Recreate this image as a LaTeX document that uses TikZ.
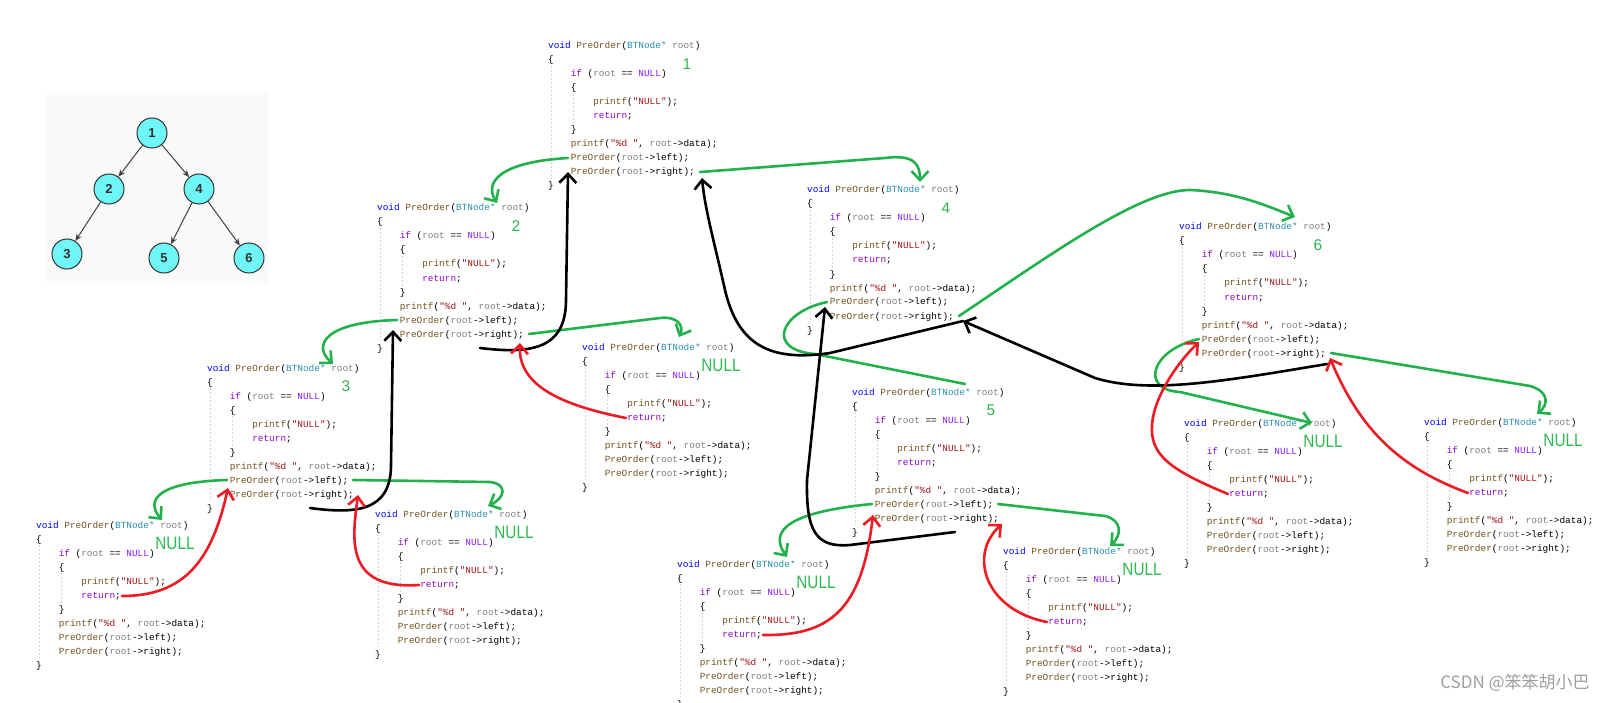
\documentclass[tikz,border=0pt]{standalone}
\usepackage{fontspec}
\setmainfont{Liberation Sans}
\setmonofont{Liberation Mono}
\newfontfamily\cjk{Noto Sans CJK SC}
\newfontfamily\handfont[FakeStretch=0.85]{Liberation Sans}
\usetikzlibrary{arrows.meta,calc}

\definecolor{kwblue}{HTML}{0000FF}
\definecolor{fnbrown}{HTML}{74531F}
\definecolor{typeteal}{HTML}{2B91AF}
\definecolor{parmgrey}{HTML}{808080}
\definecolor{ctlpurple}{HTML}{8F08C4}
\definecolor{macviolet}{HTML}{8A1BFF}
\definecolor{strred}{HTML}{A31515}
\definecolor{callgreen}{HTML}{22B14C}
\definecolor{taggreen}{HTML}{2DB84D}
\definecolor{retred}{HTML}{ED1C24}
\definecolor{treecyan}{HTML}{6FF6F6}

\newcommand\kwd[1]{\textcolor{kwblue}{#1}}
\newcommand\fnc[1]{\textcolor{fnbrown}{#1}}
\newcommand\typ[1]{\textcolor{typeteal}{#1}}
\newcommand\prm[1]{\textcolor{parmgrey}{#1}}
\newcommand\ctl[1]{\textcolor{ctlpurple}{#1}}
\newcommand\mcr[1]{\textcolor{macviolet}{#1}}
\newcommand\strg[1]{\textcolor{strred}{#1}}

% one PreOrder body: line / indent / text
\newcommand\codelines{%
  1/0/{\kwd{void} \fnc{PreOrder}(\typ{BTNode*} \prm{root})},
  2/0/{\{},
  3/4/{\ctl{if} (\prm{root} == \mcr{NULL})},
  4/4/{\{},
  5/8/{\fnc{printf}(\strg{"NULL"});},
  6/8/{\ctl{return};},
  7/4/{\}},
  8/4/{\fnc{printf}(\strg{"\%d "}, \prm{root}->data);},
  9/4/{\fnc{PreOrder}(\prm{root}->left);},
  10/4/{\fnc{PreOrder}(\prm{root}->right);},
  11/0/{\}}}

% name, x, y, tag, tag style
\newcommand\codeblk[5]{%
  \foreach \k/\ind/\txt in \codelines
    \node[codeln] (#1-\k) at ({#2+\ind*5.64},{#3+3+14*(\k-1)}) {\txt};
  \draw[guide] (#2+2.8,#3+20) -- (#2+2.8,#3+133);
  \draw[guide] (#2+25.4,#3+48) -- (#2+25.4,#3+78);
  \node[#5] (#1-tag) at (#2+139,#3+18) {#4};
  \coordinate (#1-top) at (#2+113,#3-8);
  \coordinate (#1-ls) at (#2+20,#3+112);
  \coordinate (#1-le) at (#2+146,#3+112);
  \coordinate (#1-rs) at (#2+20,#3+126);
  \coordinate (#1-re) at (#2+152,#3+126);
  \coordinate (#1-rets) at (#2+44,#3+71);
  \coordinate (#1-rete) at (#2+86,#3+71);
  \coordinate (#1-out) at (#2+103,#3+140);
}

\begin{document}
\begin{tikzpicture}[x=1pt,y=-1pt,
    codeln/.style={anchor=base west,inner sep=0pt,font=\ttfamily\fontsize{9.4}{14}\selectfont},
    guide/.style={draw=gray!35,line width=0.6pt,dash pattern=on 2pt off 2pt},
    numtag/.style={text=taggreen,inner sep=0pt,font=\fontsize{15.5}{16}\selectfont},
    nulltag/.style={text=taggreen,inner sep=0pt,font=\handfont\fontsize{18}{18}\selectfont},
    call/.style={draw=callgreen,line width=2.6pt,line cap=round,line join=round,
      -{Straight Barb[length=9pt,width=17pt]}},
    callopen/.style={draw=callgreen,line width=2.6pt,line cap=round,line join=round},
    back/.style={draw=black,line width=2.6pt,line cap=round,line join=round,
      -{Straight Barb[length=9pt,width=17pt]}},
    nullret/.style={draw=retred,line width=2.6pt,line cap=round,line join=round,
      -{Straight Barb[length=9pt,width=17pt]}},
    tnode/.style={circle,draw=black!80,line width=1pt,fill=treecyan,minimum size=30pt,
      inner sep=0pt,text=black!80,font=\bfseries\fontsize{13}{13}\selectfont},
    tedge/.style={draw=black!75,line width=1pt,-{Stealth[length=7pt,width=6pt]}}]
  \fill[white] (0,0) rectangle (1616,703);
  \useasboundingbox (0,0) rectangle (1616,703);

  % the tree
  \fill[gray!5] (46,93) rectangle (268,283);
  \node[tnode] (t1) at (152,133) {1};
  \node[tnode] (t2) at (109,189) {2};
  \node[tnode] (t4) at (199,189) {4};
  \node[tnode] (t3) at (67,254) {3};
  \node[tnode] (t5) at (164,258) {5};
  \node[tnode] (t6) at (249,258) {6};
  \draw[tedge] (t1) -- (t2);
  \draw[tedge] (t1) -- (t4);
  \draw[tedge] (t2) -- (t3);
  \draw[tedge] (t4) -- (t5);
  \draw[tedge] (t4) -- (t6);

  % the calls
  \codeblk{b1}{548}{46}{1}{numtag}
  \codeblk{b2}{377}{208}{2}{numtag}
  \codeblk{b3}{207}{368}{3}{numtag}
  \codeblk{b3l}{36}{525}{NULL}{nulltag}
  \codeblk{b3r}{375}{514}{NULL}{nulltag}
  \codeblk{b2r}{582}{347}{NULL}{nulltag}
  \codeblk{b4}{807}{190}{4}{numtag}
  \codeblk{b5}{852}{392}{5}{numtag}
  \codeblk{b5l}{677}{564}{NULL}{nulltag}
  \codeblk{b5r}{1003}{551}{NULL}{nulltag}
  \codeblk{b6}{1179}{227}{6}{numtag}
  \codeblk{b6l}{1184}{423}{NULL}{nulltag}
  \codeblk{b6r}{1424}{422}{NULL}{nulltag}

  % green: going down
  \draw[call] (b1-ls) .. controls (500,162) and (484,182) .. ($(b2-top)+(7,3)$);
  \draw[call] (b1-re) -- (885,158) .. controls (915,154) and (920,165) .. (b4-top);
  \draw[call] (b2-ls) .. controls (325,322) and (312,345) .. ($(b3-top)+(13,4)$);
  \draw[call] (b2-re) -- (660,318) .. controls (678,316) and (684,326) .. ($(b2r-top)+(-16,-2)$);
  \draw[call] (b3-ls) .. controls (158,482) and (145,500) .. ($(b3l-top)+(13,3)$);
  \draw[call] (b3-le) -- (490,482) .. controls (508,484) and (505,498) .. (b3r-top);
  \draw[callopen] (b4-ls) .. controls (780,312) and (765,350) .. (815,354) -- (b5-top);
  \draw[call] (b4-re) .. controls (1050,255) and (1140,190) .. (1190,190)
    .. controls (1235,192) and (1265,205) .. ($(b6-top)+(3,-2)$);
  \draw[call] (b5-ls) .. controls (790,512) and (768,530) .. ($(b5l-top)+(-3,1)$);
  \draw[call] (b5-le) -- (1105,516) .. controls (1122,520) and (1122,535) .. ($(b5r-top)+(-6,3)$);
  \draw[call] (b6-ls) .. controls (1150,350) and (1140,390) .. (1180,392) -- ($(b6l-top)+(15,8)$);
  \draw[call] (b6-re) -- (1530,386) .. controls (1550,392) and (1548,405) .. (b6r-top);

  % black: back up
  \draw[back] (b2-out) .. controls (530,354) and (566,350) .. (566,300) -- (b1-rs);
  \draw[back] (b3-out) .. controls (355,514) and (391,512) .. (391,465) -- ($(b2-rs)+(-4,-4)$);
  \draw[back] ($(b4-re)+(4,5)$) -- (830,353) .. controls (770,362) and (738,345) .. (725,290)
    .. controls (715,245) and (705,210) .. ($(b1-re)+(2,6)$);
  \draw[back] ($(b6-re)+(-4,11)$) .. controls (1230,380) and (1150,395) .. (1095,378)
    -- ($(b4-re)+(4,5)$);
  \draw[back] (b5-out) -- (850,545) .. controls (815,548) and (806,530) .. (807,480)
    -- ($(b4-ls)+(-2,5)$);

  % red: back from NULL
  \draw[nullret] (b3l-rete) .. controls (185,596) and (212,560) .. ($(b3-ls)+(1,8)$);
  \draw[nullret] (b3r-rets) .. controls (345,590) and (352,540) .. ($(b3-re)+(-1,1)$);
  \draw[nullret] (b2r-rets) .. controls (560,405) and (518,385) .. ($(b2-re)+(-9,9)$);
  \draw[nullret] (b5l-rete) .. controls (830,636) and (862,610) .. ($(b5-ls)+(1,11)$);
  \draw[nullret] (b5r-rets) .. controls (985,610) and (968,555) .. ($(b5-re)+(-2,6)$);
  \draw[nullret] (b6l-rets) .. controls (1170,470) and (1150,455) .. (1152,425)
    .. controls (1154,395) and (1180,360) .. ($(b6-ls)+(0,3)$);
  \draw[nullret] (b6r-rets) .. controls (1400,468) and (1360,430) .. ($(b6-re)+(-1,5)$);

  \node[text=gray!75,font=\cjk\fontsize{17}{17}\selectfont] (mark) at (1515,683) {CSDN @笨笨胡小巴};
\end{tikzpicture}
\end{document}
